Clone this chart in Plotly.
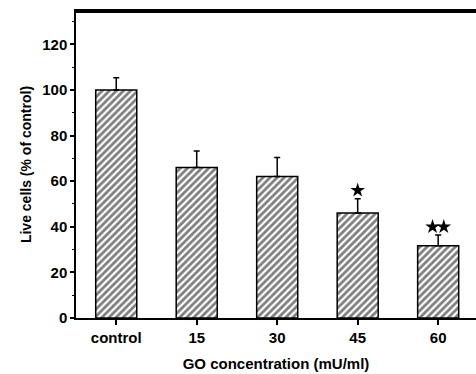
import plotly.graph_objects as go

categories = ["control", "15", "30", "45", "60"]
values = [100, 66, 62, 46, 31.7]
errors = [5.3, 7.2, 8.4, 6.3, 4.7]
sig_x = [3, 3.93, 4.07]
sig_y = [56, 40, 40]

xpos = list(range(len(categories)))

fig = go.Figure()
fig.add_trace(go.Bar(
    x=xpos, y=values, width=0.51,
    marker=dict(color="white", line=dict(color="black", width=1.5),
                pattern=dict(shape="/", fgcolor="black", bgcolor="white", size=5, solidity=0.55)),
    error_y=dict(type="data", array=errors, arrayminus=[0]*len(errors), symmetric=False,
                 color="black", thickness=1.5, width=3),
    showlegend=False,
))
fig.add_trace(go.Scatter(
    x=sig_x, y=sig_y, mode="markers",
    marker=dict(symbol="star", size=11, color="black"),
    showlegend=False, hoverinfo="skip",
))

# top frame line
fig.add_shape(type="line", xref="paper", yref="paper", x0=-0.004, x1=1, y0=0.997, y1=0.997,
              line=dict(color="black", width=2), layer="above")

fig.update_layout(
    width=476, height=374,
    margin=dict(l=76, r=0, t=11, b=56),
    plot_bgcolor="white", paper_bgcolor="white",
    font=dict(family="Liberation Sans", size=15, color="black"),
)
fig.update_xaxes(
    range=[-0.5, 4.47], showline=True, linecolor="black", linewidth=1.5, mirror=True,
    tickmode="array", tickvals=xpos, ticktext=categories,
    ticks="outside", ticklen=5, tickwidth=1.5, tickcolor="black",
    tickfont=dict(family="Liberation Sans", size=15, color="black", weight="bold"),
    title=dict(text="<b>GO concentration (mU/ml)</b>", font=dict(family="Liberation Sans", size=15, color="black"), standoff=14),
    showgrid=False, zeroline=False, automargin=False,
)
fig.update_yaxes(
    range=[0, 134.6], showline=True, linecolor="black", linewidth=1.5, mirror=False,
    tickmode="array", tickvals=[0, 20, 40, 60, 80, 100, 120],
    ticks="outside", ticklen=4, tickwidth=1.5, tickcolor="black",
    minor=dict(tickvals=[10, 30, 50, 70, 90, 110, 130], ticks="outside", ticklen=2, tickwidth=1, tickcolor="black"),
    tickfont=dict(family="Liberation Sans", size=15, color="black", weight="bold"),
    title=dict(text="<b>Live cells (% of control)</b>", font=dict(family="Liberation Sans", size=14, color="black"), standoff=7),
    showgrid=False, zeroline=False, automargin=False,
)

fig.write_html("out.html", config={"displayModeBar": False},
               post_script="document.body.style.margin='0';document.body.style.padding='0';")
